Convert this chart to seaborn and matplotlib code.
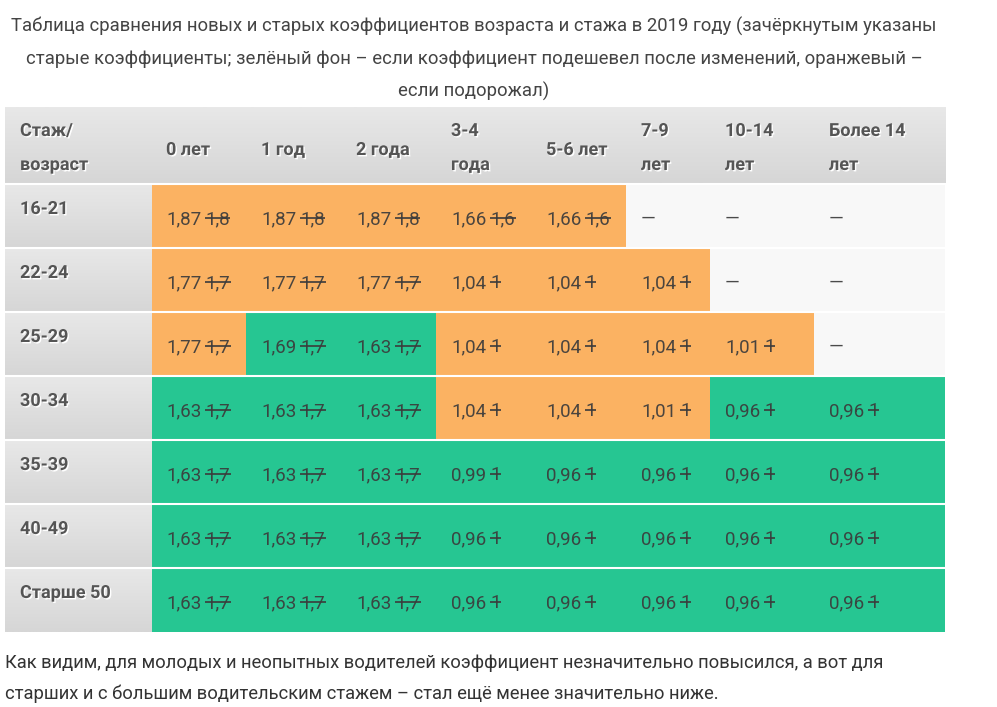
import numpy as np
import matplotlib
matplotlib.use('Agg')
import matplotlib.pyplot as plt
import matplotlib.patheffects as pe
from matplotlib.colors import ListedColormap, LinearSegmentedColormap
import seaborn as sns

# data
ages = ['16-21', '22-24', '25-29', '30-34', '35-39', '40-49', 'Старше 50']
exp_labels = ['0 лет', '1 год', '2 года', '3-4\nгода', '5-6 лет', '7-9\nлет', '10-14\nлет', 'Более 14\nлет']
n = np.nan
new_k = np.array([
    [1.87, 1.87, 1.87, 1.66, 1.66, n, n, n],
    [1.77, 1.77, 1.77, 1.04, 1.04, 1.04, n, n],
    [1.77, 1.69, 1.63, 1.04, 1.04, 1.04, 1.01, n],
    [1.63, 1.63, 1.63, 1.04, 1.04, 1.01, 0.96, 0.96],
    [1.63, 1.63, 1.63, 0.99, 0.96, 0.96, 0.96, 0.96],
    [1.63, 1.63, 1.63, 0.96, 0.96, 0.96, 0.96, 0.96],
    [1.63, 1.63, 1.63, 0.96, 0.96, 0.96, 0.96, 0.96],
])
old_k = np.array([
    [1.8, 1.8, 1.8, 1.6, 1.6, n, n, n],
    [1.7, 1.7, 1.7, 1, 1, 1, n, n],
    [1.7, 1.7, 1.7, 1, 1, 1, 1, n],
    [1.7, 1.7, 1.7, 1, 1, 1, 1, 1],
    [1.7, 1.7, 1.7, 1, 1, 1, 1, 1],
    [1.7, 1.7, 1.7, 1, 1, 1, 1, 1],
    [1.7, 1.7, 1.7, 1, 1, 1, 1, 1],
])
title_lines = ['Таблица сравнения новых и старых коэффициентов возраста и стажа в 2019 году (зачёркнутым указаны',
               'старые коэффициенты; зелёный фон – если коэффициент подешевел после изменений, оранжевый –',
               'если подорожал)']
footer_lines = ['Как видим, для молодых и неопытных водителей коэффициент незначительно повысился, а вот для',
                'старших и с большим водительским стажем – стал ещё менее значительно ниже.']

# 0 = no value, 1 = cheaper (green), 2 = more expensive (orange)
codes = np.where(np.isnan(new_k), 0, np.where(new_k < old_k, 1, 2))

# layout in pixels
W, H = 997, 707
col_edges = np.array([151, 246, 341, 436, 531, 626, 710, 814, 945])
col_w = np.diff(col_edges)
row_h = 64
body_top = 184
row_tops = body_top + row_h * np.arange(len(ages))
body_bot = body_top + row_h * len(ages)
tab_left = 5
head_top, head_bot = 107, 183

FONT = 'Roboto'
fig = plt.figure(figsize=(W / 100, H / 100), dpi=100)

# heatmap of the coloured cells
ax_hm = fig.add_axes([col_edges[0] / W, 1 - body_bot / H,
                      (col_edges[-1] - col_edges[0]) / W, (body_bot - body_top) / H], zorder=1)
cmap = ListedColormap(['#f8f8f8', '#26c692', '#fbb262'])
sns.heatmap(np.repeat(codes, col_w, axis=1), ax=ax_hm, cmap=cmap, vmin=-0.5, vmax=2.5,
            cbar=False, xticklabels=False, yticklabels=False)
ax_hm.set_axis_off()

# overlay in pixel coordinates for text and decorations
ax = fig.add_axes([0, 0, 1, 1], zorder=2)
ax.set_facecolor('none')
grey = LinearSegmentedColormap.from_list('g', ['#e8e8e8', '#d6d6d6'])
grad = np.linspace(0, 1, 50)[:, None]
ax.imshow(grad, extent=[tab_left, col_edges[-1], head_bot, head_top], cmap=grey, aspect='auto', zorder=0)
for t in row_tops:
    ax.imshow(grad, extent=[tab_left, col_edges[0], t + row_h, t], cmap=grey, aspect='auto', zorder=0)
for t in list(row_tops):
    ax.plot([tab_left, col_edges[-1]], [t, t], color='white', lw=1.5, zorder=1, solid_capstyle='butt')
ax.set_xlim(0, W)
ax.set_ylim(H, 0)
ax.set_axis_off()

shadow = [pe.withSimplePatchShadow(offset=(1, -1), shadow_rgbFace='white', alpha=1)]
hdr = dict(family=FONT, fontsize=13, fontweight='bold', color='#555555', path_effects=shadow)

# header
ax.text(20, 136, 'Стаж/', **hdr)
ax.text(20, 170, 'возраст', **hdr)
for j, lab in enumerate(exp_labels):
    x = col_edges[j] + 15
    parts = lab.split('\n')
    if len(parts) == 1:
        ax.text(x, 155, parts[0], **hdr)
    else:
        ax.text(x, 136, parts[0], **hdr)
        ax.text(x, 170, parts[1], **hdr)

# row labels
for i, lab in enumerate(ages):
    ax.text(20, row_tops[i] + 30, lab, **hdr)

# cells
renderer = fig.canvas.get_renderer()
inv = ax.transData.inverted()
txt_col = '#3b3b3b'
cell = dict(family=FONT, fontsize=13.5, fontweight='normal', color=txt_col, alpha=0.92)
for i in range(len(ages)):
    yb = row_tops[i] + 40
    for j in range(len(exp_labels)):
        x = col_edges[j] + 15
        if np.isnan(new_k[i, j]):
            ax.text(x, yb, '—', **cell)
            continue
        t1 = ax.text(x, yb, f'{new_k[i, j]:.2f}'.replace('.', ','), **cell)
        x1 = inv.transform((t1.get_window_extent(renderer).x1, 0))[0]
        t2 = ax.text(x1 + 4, yb, f'{old_k[i, j]:g}'.replace('.', ','), **cell)
        bb = t2.get_window_extent(renderer)
        xa = inv.transform((bb.x0, 0))[0]
        xb = inv.transform((bb.x1, 0))[0]
        ax.plot([xa - 0.5, xb + 0.5], [yb - 6.5, yb - 6.5], color=txt_col, alpha=0.92, lw=1.3,
                solid_capstyle='butt')

# title and footer
for k, line in enumerate(title_lines):
    ax.text(474, 32 + 32.5 * k, line, family=FONT, fontsize=13.3, color='#444444', ha='center')
for k, line in enumerate(footer_lines):
    ax.text(5, 668 + 31 * k, line, family=FONT, fontsize=13.2, color='#333333')

fig.savefig('out.png', dpi=100)
